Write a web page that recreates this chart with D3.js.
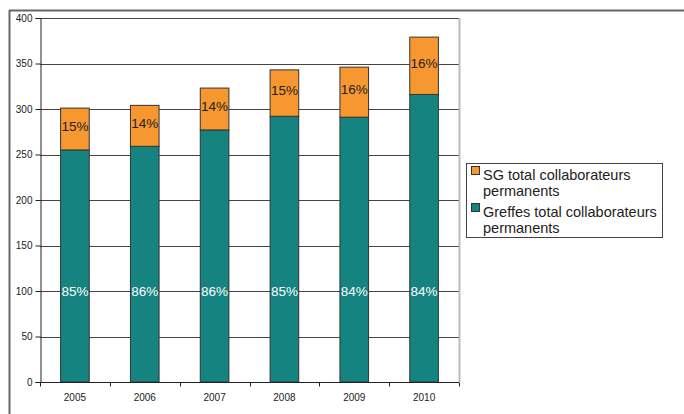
<!DOCTYPE html>
<html><head><meta charset="utf-8">
<script src="https://cdn.jsdelivr.net/npm/d3@7"></script>
<style>body{margin:0;background:#fff}svg{display:block;font-family:"Liberation Sans",Arial,sans-serif}</style>
</head><body>
<script>
const years = ["2005","2006","2007","2008","2009","2010"];
const greffes = [255, 259, 277, 292, 291, 316];
const sg = [46, 45, 46, 51, 55, 63];
const greffesPct = ["85%","86%","86%","85%","84%","84%"];
const sgPct = ["15%","14%","14%","15%","16%","16%"];
const yTicks = [0,50,100,150,200,250,300,350,400];
const seriesNames = ["SG total collaborateurs permanents","Greffes total collaborateurs permanents"];

const W=684,H=414;
const svg=d3.select("body").append("svg").attr("width",W).attr("height",H);
const L=40,R=459,T=18,B=382;
const x=d3.scaleBand().domain(years).range([L,R]).paddingInner(0.59).paddingOuter(0.295);
const xb=d3.scaleBand().domain(years).range([L,R]);
const y=d3.scaleLinear().domain([0,400]).range([B,T]);

// outer border
svg.append("line").attr("x1",9).attr("x2",W).attr("y1",10.5).attr("y2",10.5).attr("stroke","#666").attr("stroke-width",2);
svg.append("line").attr("x1",9.5).attr("x2",9.5).attr("y1",10).attr("y2",H).attr("stroke","#666").attr("stroke-width",2);

// gridlines
svg.append("g").selectAll("line").data(yTicks.filter(d=>d>0)).join("line")
 .attr("x1",L).attr("x2",R).attr("y1",d=>Math.round(y(d))+0.5).attr("y2",d=>Math.round(y(d))+0.5)
 .attr("stroke","#444").attr("stroke-width",1);
// plot right border
svg.append("line").attr("x1",R+0.5).attr("x2",R+0.5).attr("y1",T).attr("y2",B).attr("stroke","#bbb").attr("stroke-width",2);

// bars
const teal="#158380", orange="#F7972F";
svg.append("g").selectAll("rect").data(years).join("rect")
 .attr("x",d=>x(d)).attr("width",x.bandwidth())
 .attr("y",(d,i)=>y(greffes[i])).attr("height",(d,i)=>y(0)-y(greffes[i]))
 .attr("fill",teal).attr("stroke","#333").attr("stroke-width",1);
svg.append("g").selectAll("rect").data(years).join("rect")
 .attr("x",d=>x(d)).attr("width",x.bandwidth())
 .attr("y",(d,i)=>y(greffes[i]+sg[i])).attr("height",(d,i)=>y(greffes[i])-y(greffes[i]+sg[i]))
 .attr("fill",orange).attr("stroke","#333").attr("stroke-width",1);

// labels
svg.append("g").selectAll("text").data(years).join("text")
 .attr("x",d=>x(d)+x.bandwidth()/2).attr("y",y(100)+5)
 .attr("text-anchor","middle").attr("font-size",13.5).attr("fill","#fff")
 .text((d,i)=>greffesPct[i]);
svg.append("g").selectAll("text").data(years).join("text")
 .attr("x",d=>x(d)+x.bandwidth()/2).attr("y",(d,i)=>(y(greffes[i])+y(greffes[i]+sg[i]))/2+2)
 .attr("text-anchor","middle").attr("font-size",13.5).attr("fill","#222")
 .text((d,i)=>sgPct[i]);

// axes
const ya=svg.append("g").attr("transform",`translate(${L+0.5},0)`)
 .call(d3.axisLeft(y).tickValues(yTicks).tickSize(5).tickPadding(3));
ya.select(".domain").attr("stroke","#222");
ya.selectAll(".tick line").attr("stroke","#222");
ya.selectAll("text").attr("font-size",10).attr("fill","#222").attr("font-family","Liberation Sans, Arial, sans-serif");

const xa=svg.append("g").attr("transform",`translate(0,${B+0.5})`);
xa.append("line").attr("x1",L).attr("x2",R).attr("stroke","#222");
xa.selectAll("line.tk").data(years.concat(["end"])).join("line").attr("class","tk")
 .attr("x1",(d,i)=>Math.round(L+i*xb.step())+0.5).attr("x2",(d,i)=>Math.round(L+i*xb.step())+0.5)
 .attr("y1",0).attr("y2",4).attr("stroke","#222");
xa.selectAll("text").data(years).join("text")
 .attr("x",d=>xb(d)+xb.bandwidth()/2).attr("y",18).attr("text-anchor","middle")
 .attr("font-size",10).attr("fill","#222").text(d=>d);

// legend
const lg=svg.append("g");
lg.append("rect").attr("x",466.5).attr("y",163.5).attr("width",196).attr("height",74).attr("fill","#fff").attr("stroke","#444");
const items=[{c:orange,lines:["SG total collaborateurs","permanents"],y:175},{c:teal,lines:["Greffes total collaborateurs","permanents"],y:212}];
items.forEach((it,k)=>{
 lg.append("rect").attr("x",471.5).attr("y",it.y-8.5).attr("width",8).attr("height",8).attr("fill",it.c).attr("stroke","#333");
 lg.append("text").attr("x",483).attr("y",it.y+5).attr("font-size",14.5).attr("fill","#222").text(it.lines[0]);
 lg.append("text").attr("x",483).attr("y",it.y+21).attr("font-size",14.5).attr("fill","#222").text(it.lines[1]);
});
</script>
</body></html>
